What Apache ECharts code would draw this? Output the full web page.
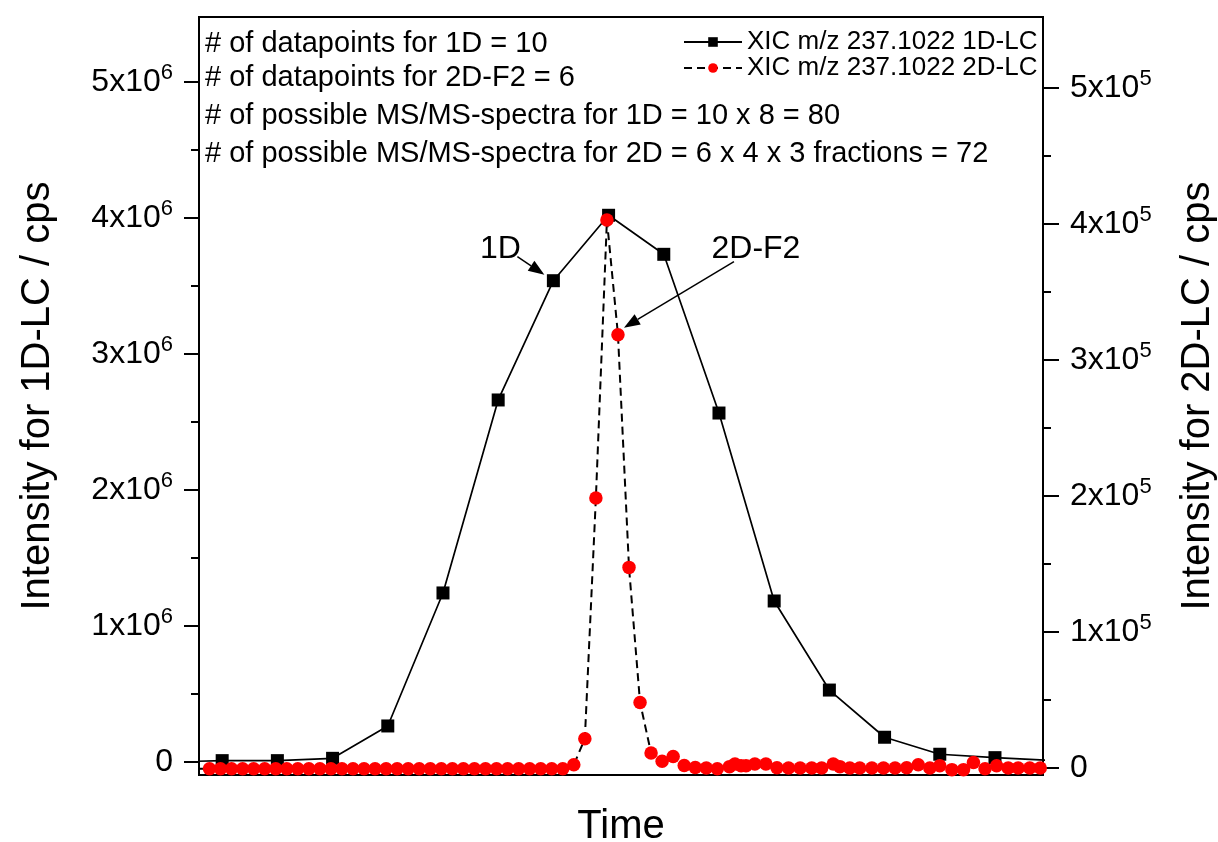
<!DOCTYPE html>
<html><head><meta charset="utf-8">
<script src="https://cdn.jsdelivr.net/npm/echarts@6/dist/echarts.min.js"></script>
<style>html,body{margin:0;padding:0;background:#fff}#c{width:1218px;height:842px}</style>
</head><body><div id="c"></div>
<script>
// ---- data (time in arbitrary units; 1D intensity on left axis, 2D intensity on right axis) ----
const time1D = [-0.58, 0.42, 1.42, 2.42, 3.42, 4.42, 5.42, 6.42, 7.42, 8.42, 9.42, 10.42, 11.42, 12.42, 13.42, 14.42, 15.42];
const xic1D  = [0, 10000, 10000, 27000, 265000, 1243000, 2662000, 3539000, 4020000, 3733000, 2566000, 1184000, 529000, 182000, 57000, 32000, 12000];

const time2D = [-0.01, 0.19, 0.39, 0.59, 0.79, 0.99, 1.19, 1.39, 1.59, 1.79, 1.99, 2.19, 2.39, 2.59, 2.79, 2.99, 3.19,
  3.39, 3.59, 3.79, 3.99, 4.19, 4.39, 4.59, 4.79, 4.99, 5.19, 5.39, 5.59, 5.79, 5.99, 6.19, 6.39, 6.59,
  6.79, 6.99, 7.19, 7.39, 7.59, 7.79, 7.99, 8.19, 8.39, 8.59, 8.79, 8.99, 9.19, 9.39,
  9.61, 9.71, 9.82, 9.91, 10.07, 10.27, 10.47, 10.68, 10.89, 11.10, 11.28, 11.49, 11.61, 11.79, 11.97,
  12.19, 12.40, 12.61, 12.82, 13.03, 13.24, 13.42, 13.64, 13.85, 14.03, 14.24, 14.45, 14.66, 14.84, 15.05, 15.24];
const xic2D = [-600, -600, -600, -600, -600, -600, -600, -600, -600, -600, -600, -600, -600, -600, -600, -600, -600,
  -600, -600, -600, -600, -600, -600, -600, -600, -600, -600, -600, -600, -600, -600, -600, -600, -600,
  2400, 21500, 198500, 403000, 318600, 147500, 48200, 11000, 4900, 8500, 1900, 400, 0, -500,
  1000, 3000, 1700, 1700, 3000, 3000, 200, 0, 0, 0, 0, 3000, 1000, 0, 0,
  0, 0, 0, 200, 2400, 0, 1700, -1200, -1200, 4000, -500, 1700, 0, 0, 0, 0];

const leftMajorTicks  = [0, 1e6, 2e6, 3e6, 4e6, 5e6];
const leftMinorTicks  = [5e5, 1.5e6, 2.5e6, 3.5e6, 4.5e6];
const rightMajorTicks = [0, 1e5, 2e5, 3e5, 4e5, 5e5];
const rightMinorTicks = [5e4, 1.5e5, 2.5e5, 3.5e5, 4.5e5];

const seriesNames = ['XIC m/z 237.1022 1D-LC', 'XIC m/z 237.1022 2D-LC'];
const notes = [
  '# of datapoints for 1D = 10',
  '# of datapoints for 2D-F2 = 6',
  '# of possible MS/MS-spectra for 1D = 10 x 8 = 80',
  '# of possible MS/MS-spectra for 2D = 6 x 4 x 3 fractions = 72'
];

// ---- chart ----
const FONT = '"Liberation Sans", Arial, Helvetica, sans-serif';
const chart = echarts.init(document.getElementById('c'), null, {renderer: 'canvas'});

function pairs(xs, ys) { return xs.map((x, i) => [x, ys[i]]); }
function supLabel(exp, unit) {
  return function (v) {
    if (v === 0) return '{b|0}';
    return '{b|' + Math.round(v / unit) + 'x10}{s|' + exp + '}';
  };
}
const richLabel = {
  b: {fontSize: 32, fontFamily: FONT, color: '#000', lineHeight: 40},
  s: {fontSize: 22, fontFamily: FONT, color: '#000', lineHeight: 14, verticalAlign: 'top'}
};

const Lmin = -95600, Lmax = 5478000;
const Rmin = -5150, Rmax = 552200;

function minorAxis(pos, mn, mx, ticks) {
  return {
    type: 'value', position: pos, min: mn, max: mx,
    axisLine: {show: false}, splitLine: {show: false}, axisLabel: {show: false},
    axisTick: {show: true, customValues: ticks, length: 8, lineStyle: {color: '#000', width: 2}}
  };
}

const option = {
  backgroundColor: '#fff',
  animation: false,
  grid: {left: 199, right: 175, top: 17, bottom: 67, show: true, borderColor: '#000', borderWidth: 2,
         containLabel: false, outerBoundsMode: 'none'},
  legend: {
    data: seriesNames, orient: 'vertical', left: 683, top: 29, padding: 0,
    itemWidth: 58, itemHeight: 12, itemGap: 0,
    textStyle: {fontSize: 26, fontFamily: FONT, color: '#000', lineHeight: 26}
  },
  xAxis: {
    type: 'value', min: 0, max: 15.29,
    axisLine: {show: true, onZero: false, lineStyle: {color: '#000', width: 2}},
    axisTick: {show: false}, axisLabel: {show: false}, splitLine: {show: false},
    name: 'Time', nameLocation: 'middle', nameGap: 32,
    nameTextStyle: {fontSize: 40, fontFamily: FONT, color: '#000'}
  },
  yAxis: [
    {
      type: 'value', position: 'left', min: Lmin, max: Lmax,
      axisLine: {show: true, onZero: false, lineStyle: {color: '#000', width: 2}},
      axisTick: {show: true, customValues: leftMajorTicks, length: 15, lineStyle: {color: '#000', width: 2}},
      axisLabel: {customValues: leftMajorTicks, margin: 26, formatter: supLabel(6, 1e6), rich: richLabel},
      splitLine: {show: false},
      name: 'Intensity for 1D-LC / cps', nameLocation: 'middle', nameGap: 141, nameRotate: 90,
      nameTextStyle: {fontSize: 40, fontFamily: FONT, color: '#000'}
    },
    {
      type: 'value', position: 'right', min: Rmin, max: Rmax,
      axisLine: {show: true, onZero: false, lineStyle: {color: '#000', width: 2}},
      axisTick: {show: true, customValues: rightMajorTicks, length: 16, lineStyle: {color: '#000', width: 2}},
      axisLabel: {customValues: rightMajorTicks, margin: 27, formatter: supLabel(5, 1e5), rich: richLabel},
      splitLine: {show: false},
      name: 'Intensity for 2D-LC / cps', nameLocation: 'middle', nameGap: 135, nameRotate: 90,
      nameTextStyle: {fontSize: 40, fontFamily: FONT, color: '#000'}
    },
    minorAxis('left', Lmin, Lmax, leftMinorTicks),
    minorAxis('right', Rmin, Rmax, rightMinorTicks)
  ],
  series: [
    {
      name: seriesNames[0], type: 'line', yAxisIndex: 0, data: pairs(time1D, xic1D),
      symbol: 'rect', symbolSize: 13, clip: true,
      lineStyle: {color: '#000', width: 1.7}, itemStyle: {color: '#000'}, z: 2
    },
    {
      name: seriesNames[1], type: 'line', yAxisIndex: 1, data: pairs(time2D, xic2D),
      symbol: 'circle', symbolSize: 13.5, clip: true,
      lineStyle: {color: '#000', width: 2, type: [8, 5]}, itemStyle: {color: '#ff0000'}, z: 3
    }
  ]
};
chart.setOption(option);

// ---- annotations ----
function arrow(x1, y1, x2, y2) {
  const ang = Math.atan2(y2 - y1, x2 - x1), L = 16, W = 6;
  const bx = x2 - L * Math.cos(ang), by = y2 - L * Math.sin(ang);
  const px = -Math.sin(ang) * W, py = Math.cos(ang) * W;
  return [
    {type: 'line', shape: {x1: x1, y1: y1, x2: bx, y2: by}, style: {stroke: '#000', lineWidth: 1.5}, z: 10},
    {type: 'polygon', shape: {points: [[x2, y2], [bx + px, by + py], [bx - px, by - py]]}, style: {fill: '#000'}, z: 10}
  ];
}
const p1D = chart.convertToPixel({xAxisIndex: 0, yAxisIndex: 0}, [time1D[7], xic1D[7]]);
const i2 = xic2D.indexOf(318600);
const p2D = chart.convertToPixel({xAxisIndex: 0, yAxisIndex: 1}, [time2D[i2], xic2D[i2]]);
const noteY = [46, 80, 118, 156];
const g = [];
notes.forEach((t, i) => g.push({type: 'text', left: 205, top: noteY[i] - 17,
  style: {text: t, font: '29px ' + FONT, fill: '#000'}, z: 10}));
g.push({type: 'text', x: p1D[0] - 53, y: p1D[1] - 32, style: {text: '1D', font: '32px ' + FONT, fill: '#000', align: 'center', verticalAlign: 'middle'}, z: 10});
g.push(...arrow(p1D[0] - 36, p1D[1] - 24, p1D[0] - 9, p1D[1] - 6));
g.push({type: 'text', x: p2D[0] + 138, y: p2D[1] - 86, style: {text: '2D-F2', font: '32px ' + FONT, fill: '#000', align: 'center', verticalAlign: 'middle'}, z: 10});
g.push(...arrow(p2D[0] + 116, p2D[1] - 73, p2D[0] + 6, p2D[1] - 7));
chart.setOption({graphic: g});
</script>
</body></html>
